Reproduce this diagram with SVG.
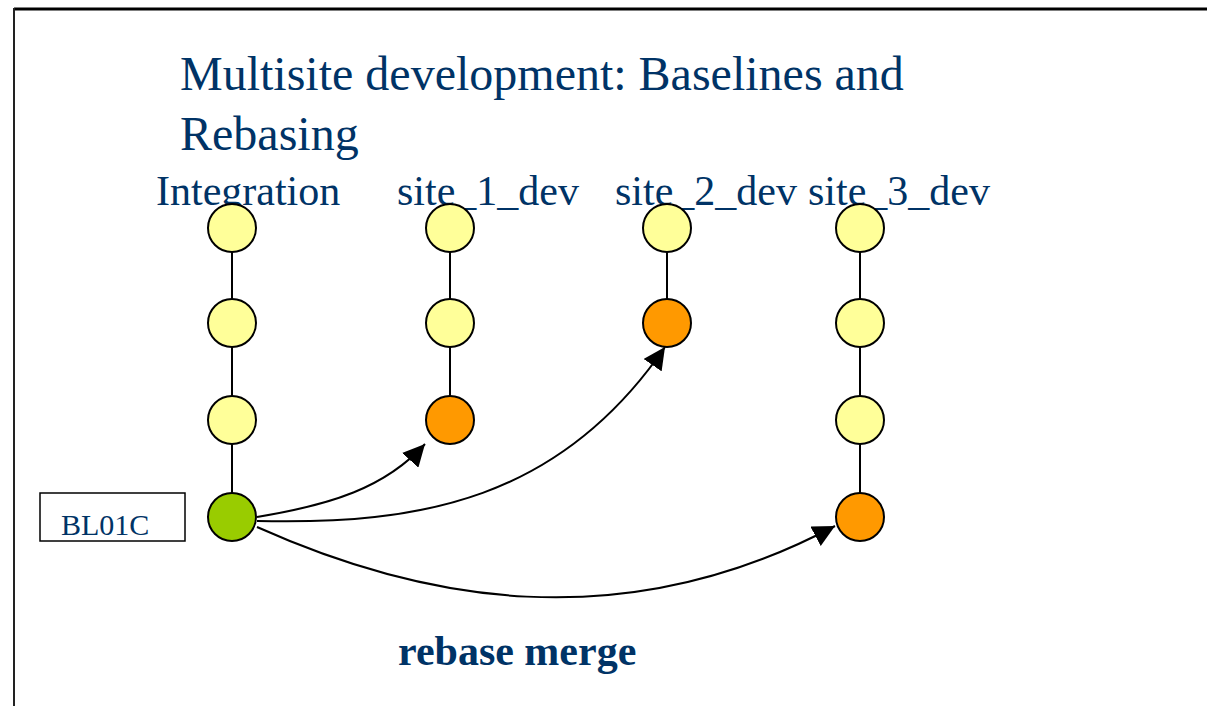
<svg xmlns="http://www.w3.org/2000/svg" width="1207" height="706" viewBox="0 0 1207 706">
  <style>
    .t { font-family: "Liberation Serif", "Times New Roman", serif; fill: #003366; }
    .title { font-size: 48px; }
    .col { font-size: 42px; }
    .bl { font-size: 30px; }
    .cap { font-size: 42px; font-weight: bold; }
    .node { stroke: #000; stroke-width: 2; }
    .yellow { fill: #FFFF99; }
    .orange { fill: #FF9900; }
    .green { fill: #99CC00; }
    .stem { stroke: #000; stroke-width: 2; fill: none; }
    .arc { stroke: #000; stroke-width: 2; fill: none; marker-end: url(#head); }
  </style>
  <defs>
    <marker id="head" markerUnits="userSpaceOnUse" markerWidth="24" markerHeight="22" refX="22" refY="11" orient="auto">
      <path d="M0,0 L22,11 L0,22 Z" fill="#000"/>
    </marker>
  </defs>

  <rect width="1207" height="706" fill="#fff"/>
  <!-- page frame -->
  <line x1="14" y1="9" x2="1207" y2="9" stroke="#000" stroke-width="3"/>
  <line x1="14" y1="8" x2="14" y2="706" stroke="#222" stroke-width="2"/>

  <!-- headings -->
  <text class="t title" x="180" y="90">Multisite development: Baselines and</text>
  <text class="t title" x="180" y="150">Rebasing</text>
  <text class="t col" x="156" y="205">Integration</text>
  <text class="t col" x="397" y="205">site_1_dev</text>
  <text class="t col" x="615" y="205">site_2_dev</text>
  <text class="t col" x="808" y="205">site_3_dev</text>

  <!-- branch stems -->
  <g id="stems">
    <line class="stem" x1="232" y1="228" x2="232" y2="517"/>
    <line class="stem" x1="450" y1="228" x2="450" y2="420"/>
    <line class="stem" x1="667" y1="228" x2="667" y2="323"/>
    <line class="stem" x1="860" y1="228" x2="860" y2="517"/>
  </g>

  <!-- rebase connectors -->
  <g id="connectors">
    <path class="arc" d="M257,517 C330,505 385,488 425,444"/>
    <path class="arc" d="M257,521 C420,525 560,500 665,347"/>
    <path class="arc" d="M257,527 C420,600 620,640 835,526"/>
  </g>

  <!-- Integration -->
  <g id="int-1"><circle class="node yellow" cx="232" cy="228" r="24"/></g>
  <g id="int-2"><circle class="node yellow" cx="232" cy="323" r="24"/></g>
  <g id="int-3"><circle class="node yellow" cx="232" cy="420" r="24"/></g>
  <g id="int-bl"><circle class="node green" cx="232" cy="517" r="24"/></g>

  <!-- site_1_dev -->
  <g id="s1-1"><circle class="node yellow" cx="450" cy="228" r="24"/></g>
  <g id="s1-2"><circle class="node yellow" cx="450" cy="323" r="24"/></g>
  <g id="s1-3"><circle class="node orange" cx="450" cy="420" r="24"/></g>

  <!-- site_2_dev -->
  <g id="s2-1"><circle class="node yellow" cx="667" cy="228" r="24"/></g>
  <g id="s2-2"><circle class="node orange" cx="667" cy="323" r="24"/></g>

  <!-- site_3_dev -->
  <g id="s3-1"><circle class="node yellow" cx="860" cy="228" r="24"/></g>
  <g id="s3-2"><circle class="node yellow" cx="860" cy="323" r="24"/></g>
  <g id="s3-3"><circle class="node yellow" cx="860" cy="420" r="24"/></g>
  <g id="s3-4"><circle class="node orange" cx="860" cy="517" r="24"/></g>

  <!-- baseline label -->
  <g id="bl01c">
    <rect x="40" y="493" width="145" height="48" fill="#fff" stroke="#000" stroke-width="1.5"/>
    <text class="t bl" x="61" y="535">BL01C</text>
  </g>

  <text class="t cap" x="398" y="665">rebase merge</text>
</svg>
